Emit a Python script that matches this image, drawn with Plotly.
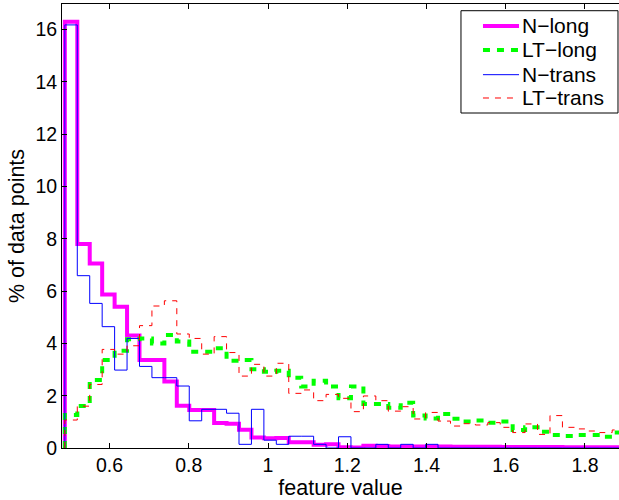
import numpy as np
import plotly.graph_objects as go

# histogram bins (feature value)
bin_start = 0.4872
bin_width = 0.0314
n_bins = 45

# % of data points per bin
n_long = [16.3, 7.80, 7.06, 5.87, 5.40, 4.30, 3.37, 3.37, 2.54, 1.62,
          1.45, 1.45, 0.96, 0.93, 0.70, 0.40, 0.37, 0.38, 0.22, 0.22,
          0.12, 0.14, 0.03, 0.02, 0.09, 0.08, 0.06, 0.06, 0.06, 0.06,
          0.06, 0.05, 0.05, 0.05, 0.05, 0.04, 0.04, 0.04, 0.04, 0.04,
          0.03, 0.03, 0.03, 0.03, 0.03]
lt_long = [1.26, 1.61, 2.60, 3.37, 3.72, 4.16, 4.19, 4.00, 4.32, 4.07,
           3.68, 3.68, 3.81, 3.34, 3.37, 3.01, 2.92, 2.95, 2.69, 2.35,
           2.57, 2.35, 1.90, 2.35, 1.68, 1.68, 1.54, 1.73, 1.24, 1.13,
           1.30, 1.12, 1.01, 1.05, 0.97, 1.01, 0.69, 0.79, 0.62, 0.50,
           0.46, 0.50, 0.50, 0.43, 0.59]
n_trans = [16.18, 6.59, 5.53, 4.64, 2.98, 4.19, 3.12, 2.69, 2.69, 2.37,
           1.04, 1.48, 1.48, 1.33, 0.14, 1.48, 0.30, 0.14, 0.45, 0.45,
           0.14, 0.0, 0.43, 0.0, 0.0, 0.14, 0.0, 0.14, 0.0, 0.14,
           0.0, 0.0, 0.0, 0.0, 0.0, 0.0, 0.0, 0.0, 0.0, 0.0,
           0.0, 0.0, 0.0, 0.0, 0.0]
lt_trans = [1.07, 1.60, 2.43, 3.77, 3.59, 3.91, 4.68, 5.43, 5.63, 4.36,
            4.19, 3.59, 4.26, 3.65, 2.75, 3.20, 2.75, 3.24, 2.09, 2.22,
            1.81, 2.05, 1.90, 1.39, 1.99, 1.81, 1.41, 1.58, 1.11, 1.36,
            1.03, 0.84, 0.93, 0.88, 0.97, 0.79, 0.59, 0.92, 0.52, 1.24,
            0.79, 0.73, 0.65, 0.59, 0.69]

series_names = ["N\u2212long", "LT\u2212long", "N\u2212trans", "LT\u2212trans"]

x_ticks = [0.6, 0.8, 1.0, 1.2, 1.4, 1.6, 1.8]
x_tick_labels = ["0.6", "0.8", "1", "1.2", "1.4", "1.6", "1.8"]
y_ticks = [0, 2, 4, 6, 8, 10, 12, 14, 16]

edges = bin_start + bin_width * np.arange(n_bins + 1)


def step_xy(vals):
    xs = [edges[0]] + list(edges)
    ys = [0.0] + list(vals) + [vals[-1]]
    return xs, ys


FONT = "Liberation Sans, Arial, Helvetica, sans-serif"

styles = [
    dict(color="#FF00FF", width=4, dash="solid"),
    dict(color="#00FF00", width=4, dash="7px,7px"),
    dict(color="#0000FF", width=1, dash="solid"),
    dict(color="#FF0000", width=1, dash="6px,6px"),
]
values = [n_long, lt_long, n_trans, lt_trans]

fig = go.Figure()
for name, vals, line in zip(series_names, values, styles):
    xs, ys = step_xy(vals)
    fig.add_trace(go.Scatter(x=xs, y=ys, mode="lines", name=name,
                             line=dict(shape="hv", **line)))

# legend box (drawn as shapes + text, MATLAB style)
leg_x0, leg_x1, leg_y0, leg_y1 = 0.7163, 0.9982, 0.7545, 0.9849
sample_x0, sample_x1, text_x = 0.7558, 0.8205, 0.8223
row_y = [0.9505, 0.8964, 0.8408, 0.7883]
shapes = [dict(type="rect", xref="paper", yref="paper",
               x0=leg_x0, x1=leg_x1, y0=leg_y0, y1=leg_y1,
               line=dict(color="black", width=1), fillcolor="white",
               layer="above")]
annotations = []
for name, line, ry in zip(series_names, styles, row_y):
    shapes.append(dict(type="line", xref="paper", yref="paper",
                       x0=sample_x0, x1=sample_x1, y0=ry, y1=ry,
                       line=dict(color=line["color"], width=line["width"],
                                 dash=line["dash"]), layer="above"))
    annotations.append(dict(xref="paper", yref="paper", x=text_x, y=ry,
                            xanchor="left", yanchor="middle", text=name,
                            showarrow=False,
                            font=dict(family=FONT, size=21, color="black")))

axis_common = dict(showgrid=False, zeroline=False, showline=True,
                   linecolor="black", linewidth=1, ticks="inside",
                   ticklen=5, tickcolor="black", tickwidth=1,
                   tickfont=dict(family=FONT, size=19.5, color="black"))

fig.update_layout(
    width=619, height=500,
    margin=dict(l=62, r=0, t=4, b=52),
    paper_bgcolor="white", plot_bgcolor="white",
    font=dict(family=FONT, size=19.5, color="black"),
    xaxis=dict(range=[0.48, 1.886], tickvals=x_ticks, ticktext=x_tick_labels,
               mirror="ticks",
               title=dict(text="feature value", standoff=0,
                          font=dict(family=FONT, size=21.5, color="black")),
               **axis_common),
    yaxis=dict(range=[0, 16.98], tickvals=y_ticks,
               title=dict(text="% of data points", standoff=4,
                          font=dict(family=FONT, size=21.5, color="black")),
               **axis_common),
    shapes=shapes,
    annotations=annotations,
    showlegend=False,
)

fig.write_html("out.html",
               config={"displayModeBar": False},
               post_script="document.body.style.margin='0';"
                           "document.body.style.overflow='hidden';")
